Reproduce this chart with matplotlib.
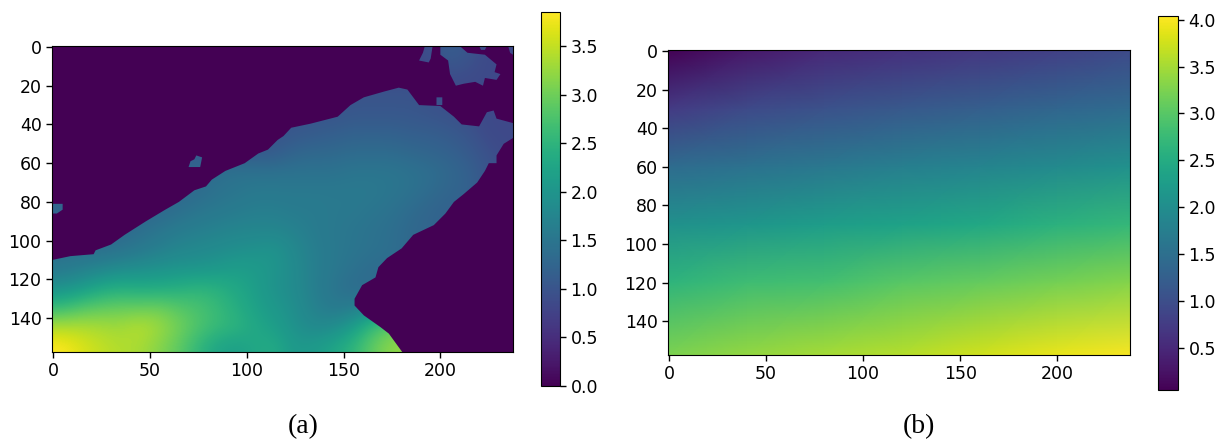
import matplotlib
matplotlib.use('Agg')
import matplotlib.pyplot as plt
import numpy as np
from matplotlib.path import Path
from matplotlib.patches import PathPatch

# panel (a): sea values, one row per 10 image rows, one column per 10 image columns
sea_rows = [
    [.85, .85, .85, .85, .85, .85, .85, .85, .85, .85, .85, .85, .85, .85, .85, .85, .85, .85, .85, .9, 1.15, 1.0, .85, .85],
    [.85, .85, .85, .85, .85, .85, .85, .85, .85, .85, .85, .85, .85, .85, .85, .85, .85, .85, .85, .85, .9, .9, .85, .85],
    [.95, .95, .95, .95, .95, .95, .95, .95, .95, .95, .95, .95, .95, .95, .95, 1.0, 1.0, 1.0, 1.0, .95, .9, .85, .85, .85],
    [1.0, 1.0, 1.0, 1.0, 1.0, 1.0, 1.0, 1.0, 1.0, 1.0, 1.0, 1.0, 1.0, 1.0, 1.0, 1.05, 1.05, 1.05, 1.05, 1.0, .95, .9, .85, .85],
    [1.0, 1.0, 1.0, 1.0, 1.0, 1.0, 1.0, 1.0, 1.0, 1.0, 1.0, 1.0, 1.05, 1.1, 1.15, 1.2, 1.2, 1.2, 1.15, 1.15, 1.1, 1.0, .85, .85],
    [1.1, 1.1, 1.1, 1.1, 1.1, 1.1, 1.1, 1.1, 1.1, 1.1, 1.05, 1.1, 1.25, 1.3, 1.3, 1.35, 1.35, 1.35, 1.3, 1.25, 1.2, 1.1, .95, .85],
    [1.3, 1.3, 1.3, 1.3, 1.3, 1.3, 1.3, 1.3, 1.4, 1.45, 1.45, 1.45, 1.45, 1.45, 1.45, 1.5, 1.5, 1.5, 1.45, 1.4, 1.3, 1.2, 1.0, .9],
    [1.3, 1.3, 1.3, 1.3, 1.3, 1.3, 1.3, 1.35, 1.45, 1.5, 1.55, 1.55, 1.55, 1.55, 1.55, 1.55, 1.55, 1.5, 1.45, 1.35, 1.25, 1.2, 1.0, .9],
    [1.25, 1.25, 1.25, 1.25, 1.25, 1.3, 1.4, 1.5, 1.55, 1.6, 1.65, 1.65, 1.6, 1.6, 1.55, 1.55, 1.5, 1.45, 1.35, 1.25, 1.2, 1.2, 1.0, .9],
    [1.3, 1.3, 1.3, 1.3, 1.4, 1.5, 1.6, 1.65, 1.7, 1.75, 1.75, 1.75, 1.7, 1.6, 1.55, 1.5, 1.45, 1.4, 1.3, 1.25, 1.2, 1.2, 1.0, .9],
    [1.4, 1.4, 1.4, 1.45, 1.55, 1.65, 1.75, 1.8, 1.85, 1.9, 1.95, 2.0, 1.8, 1.65, 1.55, 1.5, 1.45, 1.4, 1.3, 1.25, 1.2, 1.2, 1.0, .9],
    [1.55, 1.65, 1.75, 1.85, 1.9, 1.95, 2.0, 2.0, 2.05, 2.15, 2.1, 2.0, 1.85, 1.65, 1.55, 1.45, 1.35, 1.35, 1.3, 1.25, 1.2, 1.2, 1.0, .9],
    [1.95, 2.1, 2.3, 2.4, 2.35, 2.35, 2.4, 2.5, 2.45, 2.3, 2.15, 1.95, 1.85, 1.65, 1.5, 1.35, 1.35, 1.35, 1.3, 1.25, 1.2, 1.2, 1.0, .9],
    [2.6, 2.8, 2.9, 2.95, 2.95, 3.0, 2.85, 2.75, 2.6, 2.4, 2.2, 2.05, 1.9, 1.7, 1.55, 1.6, 1.75, 1.8, 1.8, 1.8, 1.8, 1.8, 1.8, 1.8],
    [3.4, 3.4, 3.35, 3.3, 3.45, 3.3, 3.05, 2.8, 2.6, 2.5, 2.3, 2.15, 1.95, 1.8, 1.85, 2.1, 2.6, 2.95, 3.0, 3.0, 3.0, 3.0, 3.0, 3.0],
    [3.85, 3.65, 3.5, 3.4, 3.35, 3.15, 2.9, 2.55, 2.25, 2.15, 2.3, 2.35, 2.05, 2.1, 2.25, 2.5, 2.9, 3.2, 3.2, 3.2, 3.2, 3.2, 3.2, 3.2],
]

# panel (a): coastline outlines in image coordinates
main_sea = [(-0.5, 110), (9, 108), (21, 107), (22, 105), (30, 102), (37, 97), (48, 90), (58, 84), (65, 80),
            (73, 74), (79, 72), (82, 68.5), (89, 64), (99, 60), (106, 55), (111, 53), (116, 48), (119, 46),
            (123, 41.7), (133, 39.6), (147, 36), (153.6, 30), (160.5, 26), (171, 23), (178.5, 21), (183, 22),
            (186, 26), (189, 30), (200, 30.5), (207, 36), (211, 40), (220, 41), (224, 33.7), (227.5, 32.8),
            (229, 37), (237.5, 39.3), (237.5, 47), (232.7, 50), (229, 56), (229, 60), (225, 60), (223, 64),
            (219, 70), (212, 76), (207, 80), (202.6, 86), (196.6, 92), (186, 97), (180, 104), (172.5, 109),
            (168, 113.7), (166.5, 119), (159.6, 123), (155.7, 130), (155.7, 133.5), (160.5, 138.6),
            (169, 144.6), (173.4, 148), (180.3, 157.5), (-0.5, 157.5)]
islands = [
    [(200, -0.5), (210, -0.5), (214, 3), (223, 4), (229, 9), (228, 13), (231, 14), (229, 17), (223, 16),
     (222, 20), (218, 18), (212, 19), (208, 20), (205, 14), (204, 7), (200, 4)],
    [(192, -0.5), (196, -0.5), (195, 6), (194, 8), (189, 7), (191, 3)],
    [(198, 26), (201, 26), (201, 30), (198, 30)],
    [(235, -0.5), (237.5, -0.5), (237.5, 4), (236, 3)],
    [(220, -0.5), (224, -0.5), (223, 1.5), (221, 1.5)],
    [(74, 56), (77, 57), (76, 62), (70, 62), (71, 59), (73, 58)],
    [(-0.5, 81), (5, 81), (5, 84), (2, 86), (-0.5, 86)],
]

# panel (b): smooth field at a few nodes
field_x = [-0.5, 40, 80, 120, 160, 200, 237.5]
field_y = [-0.5, 30, 60, 90, 120, 157.5]
field_rows = [
    [.05, .3, .5, .6, .7, .8, .95],
    [.75, .95, 1.05, 1.15, 1.25, 1.35, 1.45],
    [1.45, 1.55, 1.65, 1.75, 1.85, 1.95, 2.05],
    [2.05, 2.15, 2.25, 2.35, 2.45, 2.6, 2.7],
    [2.65, 2.8, 2.85, 3.0, 3.1, 3.2, 3.3],
    [3.25, 3.4, 3.5, 3.6, 3.75, 3.9, 4.0],
]

x_ticks = [0, 50, 100, 150, 200]
y_ticks = [0, 20, 40, 60, 80, 100, 120, 140]
cbar_ticks_a = [0.0, 0.5, 1.0, 1.5, 2.0, 2.5, 3.0, 3.5]
cbar_ticks_b = [0.5, 1.0, 1.5, 2.0, 2.5, 3.0, 3.5, 4.0]
W, H = 1224, 443


def px_axes(fig, left, top, right, bottom):
    return fig.add_axes([left / W, 1 - bottom / H, (right - left) / W, (bottom - top) / H])


def style_axes(ax):
    ax.set_xticks(x_ticks)
    ax.set_yticks(y_ticks)
    ax.tick_params(labelsize=12.5, length=4.5, width=1, pad=3)


plt.rcParams['font.family'] = 'DejaVu Sans'
fig = plt.figure(figsize=(W / 100, H / 100), dpi=100)

# Panel (a)
ax_a = px_axes(fig, 52, 46, 513, 352)
ax_a.set_facecolor(plt.get_cmap('viridis')(0.0))
im_a = ax_a.imshow(np.array(sea_rows), cmap='viridis', vmin=0.0, vmax=3.85, aspect='auto',
                   extent=(-0.5, 239.5, 159.5, -0.5), interpolation='bicubic')
ax_a.set_xlim(-0.5, 237.5)
ax_a.set_ylim(157.5, -0.5)
verts, codes = [], []
for poly in [main_sea] + islands:
    verts += poly + [poly[0]]
    codes += [Path.MOVETO] + [Path.LINETO] * (len(poly) - 1) + [Path.CLOSEPOLY]
sea_patch = PathPatch(Path(verts, codes), transform=ax_a.transData, fc='none', ec='none')
im_a.set_clip_path(sea_patch)
style_axes(ax_a)
cax_a = px_axes(fig, 541, 12, 560, 386)
cb_a = fig.colorbar(im_a, cax=cax_a, ticks=cbar_ticks_a)
cb_a.ax.tick_params(labelsize=12.5, length=4.5, width=1, pad=3)

# Panel (b)
ax_b = px_axes(fig, 668, 50, 1130, 355)
mesh_b = ax_b.pcolormesh(field_x, field_y, np.array(field_rows), cmap='viridis', vmin=0.05, vmax=4.04,
                         shading='gouraud')
ax_b.set_xlim(-0.5, 237.5)
ax_b.set_ylim(157.5, -0.5)
style_axes(ax_b)
cax_b = px_axes(fig, 1158, 16, 1178, 390)
cb_b = fig.colorbar(mesh_b, cax=cax_b, ticks=cbar_ticks_b)
cb_b.ax.tick_params(labelsize=12.5, length=4.5, width=1, pad=3)

# Captions
fig.text(303 / W, 1 - 427 / H, '(a)', family='Liberation Serif', fontsize=20, ha='center', va='center')
fig.text(919 / W, 1 - 427 / H, '(b)', family='Liberation Serif', fontsize=20, ha='center', va='center')

fig.savefig('out.png', dpi=100)
plt.close(fig)
